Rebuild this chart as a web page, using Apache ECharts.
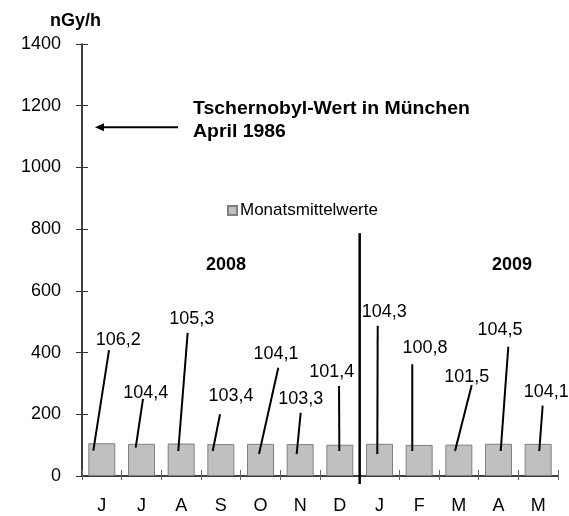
<!DOCTYPE html>
<html><head><meta charset="utf-8">
<script src="https://cdn.jsdelivr.net/npm/echarts@6/dist/echarts.min.js"></script>
<style>html,body{margin:0;padding:0;background:#fff}#c{width:569px;height:516px}</style>
</head><body><div id="c"></div>
<script>
// ---- data ----
var categories = ['J','J','A','S','O','N','D','J','F','M','A','M'];
var values = [106.2, 104.4, 105.3, 103.4, 104.1, 103.3, 101.4, 104.3, 100.8, 101.5, 104.5, 104.1];
var yTicks = [0, 200, 400, 600, 800, 1000, 1200, 1400];
var chernobylValue = 1130;   // level of the arrow (nGy/h)
var dividerTop = 787;        // top of the 2008/2009 divider (nGy/h)

// ---- annotation layout (leader lines and label anchors) ----
var leadStartV  = [82, 92, 81, 81, 71, 71, 81, 71, 81, 81, 81, 81];
var leadStartDx = [-8.5, -5.8, -2.9, -8.1, -1.5, -3.5, -0.5, -2.2, -6.9, -3.8, 2.2, 1.1];
var leadEndV    = [408, 250, 464, 200, 351, 205, 292, 487, 362, 295, 419, 228];
var leadEndDx   = [7.2, 1.5, 6.5, -0.8, 17.8, 0.5, -0.8, -1.8, -6.9, 12.9, 9.8, 4.5];
var labelV      = [441, 270, 509, 259, 395, 250, 338, 532, 414, 322, 473, 272];
var labelDx     = [16.5, 4.2, 10.5, 10.2, 15.5, 0.5, -8, 4.8, 5.8, 7.9, 1.5, 8];

var FONT = '"Liberation Sans", Arial, sans-serif';
function fmt(v){ return v.toFixed(1).replace('.', ','); }

var chart = echarts.init(document.getElementById('c'));
var option = {
  animation: false,
  textStyle: {fontFamily: FONT},
  grid: {left: 82, right: 11, top: 44, bottom: 40},
  legend: {
    data: ['Monatsmittelwerte'],
    left: 222, top: 197,
    itemWidth: 9, itemHeight: 9,
    icon: 'rect',
    textStyle: {fontSize: 17, color: '#000', fontFamily: FONT, padding: [0, 0, 0, -2]}
  },
  xAxis: [{
    type: 'category', data: categories,
    axisLine: {lineStyle: {color: '#000', width: 1.5}},
    axisTick: {show: true, inside: false, length: 4, interval: 0, lineStyle: {color: '#666'}},
    axisLabel: {fontSize: 18, color: '#000', margin: 21, fontFamily: FONT, interval: 0}
  }, {
    type: 'category', data: categories, position: 'bottom', offset: 0,
    axisLine: {show: false},
    axisTick: {show: true, inside: true, length: 6, interval: 0, lineStyle: {color: '#666'}},
    axisLabel: {show: false}
  }],
  yAxis: [{
    type: 'value', min: yTicks[0], max: yTicks[yTicks.length-1], interval: 200,
    splitLine: {show: false},
    axisLine: {show: true, lineStyle: {color: '#000', width: 1.5}},
    axisTick: {show: true, length: 6, lineStyle: {color: '#333'}},
    axisLabel: {fontSize: 18, color: '#000', margin: 21, fontFamily: FONT,
      formatter: function(v){ return String(v); }}
  }, {
    type: 'value', min: yTicks[0], max: yTicks[yTicks.length-1], interval: 200, position: 'left',
    splitLine: {show: false},
    axisLine: {show: false},
    axisTick: {show: true, inside: true, length: 6, lineStyle: {color: '#333'}},
    axisLabel: {show: false}
  }],
  graphic: [
    {type: 'text', left: 50, top: 12, style: {text: 'nGy/h', font: 'bold 18px ' + FONT, fill: '#000'}},
    {type: 'text', x: 193, y: 98, scaleX: 1.08, style: {text: 'Tschernobyl-Wert in München\nApril 1986', font: 'bold 18px ' + FONT, fill: '#000', lineHeight: 22.4}},
    {type: 'text', left: 206, top: 256, style: {text: '2008', font: 'bold 18px ' + FONT, fill: '#000'}},
    {type: 'text', left: 492, top: 256, style: {text: '2009', font: 'bold 18px ' + FONT, fill: '#000'}}
  ],
  series: [{
    name: 'Monatsmittelwerte',
    type: 'bar',
    data: values,
    barWidth: 27,
    itemStyle: {color: '#c0c0c0', borderColor: '#808080', borderWidth: 1}
  }, {
    type: 'custom',
    name: 'labels',
    data: values.map(function(v, i){ return [i, v]; }),
    encode: {x: 0, y: 1},
    z: 5,
    renderItem: function(params, api){
      var i = params.dataIndex;
      var cx = api.coord([i, 0])[0];
      var p0 = api.coord([i, leadStartV[i]]);
      var p1 = api.coord([i, leadEndV[i]]);
      var pl = api.coord([i, labelV[i]]);
      return {type: 'group', children: [
        {type: 'line', shape: {x1: cx + leadStartDx[i], y1: p0[1], x2: cx + leadEndDx[i], y2: p1[1]},
         style: {stroke: '#000', lineWidth: 2}},
        {type: 'text', x: cx + labelDx[i], y: pl[1],
         style: {text: fmt(values[i]), fill: '#000', font: '18px ' + FONT, align: 'center', verticalAlign: 'middle'}}
      ]};
    }
  }, {
    type: 'custom',
    name: 'annot',
    data: [[6, dividerTop]],
    encode: {x: 0, y: 1},
    z: 6,
    renderItem: function(params, api){
      var top = api.coord([6, dividerTop]);
      var base = api.coord([6, 0]);
      var half = api.size([1, 0])[0] / 2;
      var xd = top[0] + half;
      var ya = api.coord([0, chernobylValue]);
      var axisX = base[0] - half * 13;
      var ax0 = axisX + 13, ax1 = axisX + 96;
      return {type: 'group', children: [
        {type: 'line', shape: {x1: xd, y1: top[1], x2: xd, y2: base[1] + 8}, style: {stroke: '#000', lineWidth: 2.5}},
        {type: 'line', shape: {x1: ax0 + 6, y1: ya[1], x2: ax1, y2: ya[1]}, style: {stroke: '#000', lineWidth: 2}},
        {type: 'polygon', shape: {points: [[ax0, ya[1]], [ax0 + 9, ya[1] - 4], [ax0 + 9, ya[1] + 4]]}, style: {fill: '#000'}}
      ]};
    }
  }]
};
chart.setOption(option);
</script></body></html>
